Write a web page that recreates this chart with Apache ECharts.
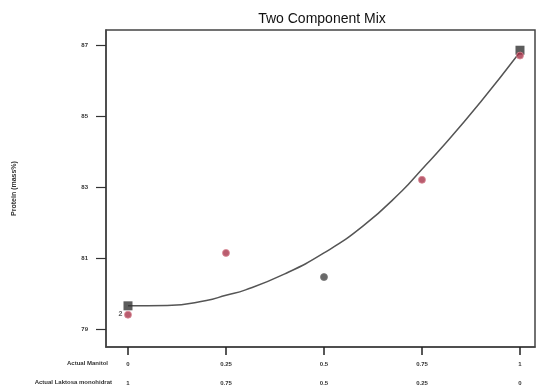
<!DOCTYPE html>
<html>
<head>
<meta charset="utf-8">
<script src="https://cdn.jsdelivr.net/npm/echarts@6/dist/echarts.min.js"></script>
<style>
	html, body { margin: 0; padding: 0; background: #fff; }
	#container { width: 540px; height: 389px; }
</style>
</head>
<body>
<div id="container"></div>
<script>
// garis prediksi
var curveX = [0, 0.1, 0.2, 0.25, 0.3, 0.4, 0.5, 0.6, 0.7, 0.75, 0.8, 0.9, 1];
var curveY = [79.65, 79.66, 79.8, 79.95, 80.1, 80.55, 81.14, 81.9, 82.9, 83.5, 84.1, 85.4, 86.8];

// titik aktual
var actualX = [0, 0.25, 0.5, 0.75, 1];
var actualY = [79.4, 81.14, 80.46, 83.2, 86.7];

// titik desain
var designX = [0, 1];
var designY = [79.65, 86.85];
var designRep = ['2', ''];

var xTicks = [0, 0.25, 0.5, 0.75, 1];
var xTopLabels = ['0', '0.25', '0.5', '0.75', '1'];
var xBottomLabels = ['1', '0.75', '0.5', '0.25', '0'];
var yTicks = [79, 81, 83, 85, 87];

try {
	var dom = document.getElementById("container");
	var myChart = echarts.init(dom);
	var option = null;

	var curveData = [];
	curveX.forEach((x, i) => {
		curveData.push([x, curveY[i]]);
	});

	// titik jauh di bawah prediksi digambar abu-abu
	var actualData = [];
	actualX.forEach((x, i) => {
		var resid = actualY[i] - curveY[curveX.indexOf(x)];
		actualData.push({
			value: [x, actualY[i]],
			itemStyle: resid < -0.5 ? { color: '#444', borderColor: '#777' } : {}
		});
	});

	var designData = [];
	designX.forEach((x, i) => {
		designData.push({
			value: [x, designY[i]],
			label: { show: designRep[i] !== '', formatter: designRep[i] }
		});
	});

	option = {
		backgroundColor: '#fff',
		animation: false,
		title: {
			text: 'Two Component Mix',
			left: 317,
			top: 7,
			textAlign: 'center',
			textStyle: { fontFamily: 'Liberation Sans', fontSize: 14, fontWeight: 'normal', color: '#111' }
		},
		grid: {
			left: 106,
			right: 5,
			top: 30,
			bottom: 42
		},
		xAxis: {
			type: 'value',
			min: -0.0561,
			max: 1.0383,
			axisLine: { show: true, onZero: false, lineStyle: { color: '#444', width: 1.5 } },
			axisTick: { show: true, inside: false, length: 8, customValues: xTicks, lineStyle: { color: '#222', width: 1.5 } },
			splitLine: { show: false },
			axisLabel: {
				margin: 8,
				customValues: xTicks,
				formatter: function (v) {
					var i = xTicks.indexOf(v);
					return '{a|' + xTopLabels[i] + '}\n{b|' + xBottomLabels[i] + '}';
				},
				rich: {
					a: { fontSize: 6, fontWeight: 'bold', color: '#333', lineHeight: 19 },
					b: { fontSize: 6, fontWeight: 'bold', color: '#333', lineHeight: 19 }
				}
			}
		},
		yAxis: {
			type: 'value',
			min: 78.49,
			max: 87.42,
			name: 'Protein (mass%)',
			nameLocation: 'middle',
			nameGap: 88,
			nameTextStyle: { fontSize: 7, fontWeight: 'bold', color: '#333' },
			axisLine: { show: true, onZero: false, lineStyle: { color: '#444', width: 1.5 } },
			axisTick: { show: true, length: 10, customValues: yTicks, lineStyle: { color: '#333', width: 1.2 } },
			splitLine: { show: false },
			axisLabel: { fontSize: 6, fontWeight: 'bold', color: '#333', margin: 18, customValues: yTicks }
		},
		graphic: [
			{
				type: 'rect',
				shape: { x: 106, y: 30, width: 429, height: 317 },
				style: { fill: 'none', stroke: '#444', lineWidth: 1.5 },
				silent: true
			},
			{
				type: 'text',
				x: 108,
				y: 363,
				style: { text: 'Actual Manitol', fontSize: 6, fontWeight: 'bold', fill: '#333', align: 'right', verticalAlign: 'middle' }
			},
			{
				type: 'text',
				x: 112,
				y: 382,
				style: { text: 'Actual Laktosa monohidrat', fontSize: 6, fontWeight: 'bold', fill: '#333', align: 'right', verticalAlign: 'middle' }
			}
		],
		series: [
			{
				name: 'Prediksi',
				type: 'line',
				smooth: true,
				showSymbol: false,
				data: curveData,
				lineStyle: { color: '#555', width: 1.5 },
				z: 2
			},
			{
				name: 'Desain',
				type: 'scatter',
				symbol: 'rect',
				symbolSize: 9,
				data: designData,
				itemStyle: { color: '#333' },
				label: { position: 'left', offset: [0, 8], fontSize: 7, fontWeight: 'bold', color: '#333', distance: 1 },
				z: 3
			},
			{
				name: 'Aktual',
				type: 'scatter',
				symbol: 'circle',
				symbolSize: 7,
				data: actualData,
				itemStyle: { color: '#a8334a', borderColor: '#d98a96', borderWidth: 1 },
				z: 4
			}
		]
	};

	if (option && typeof option === "object") {
		myChart.setOption(option, true);
	}
} catch (error) {
	console.log(error)
}
</script>
</body>
</html>
